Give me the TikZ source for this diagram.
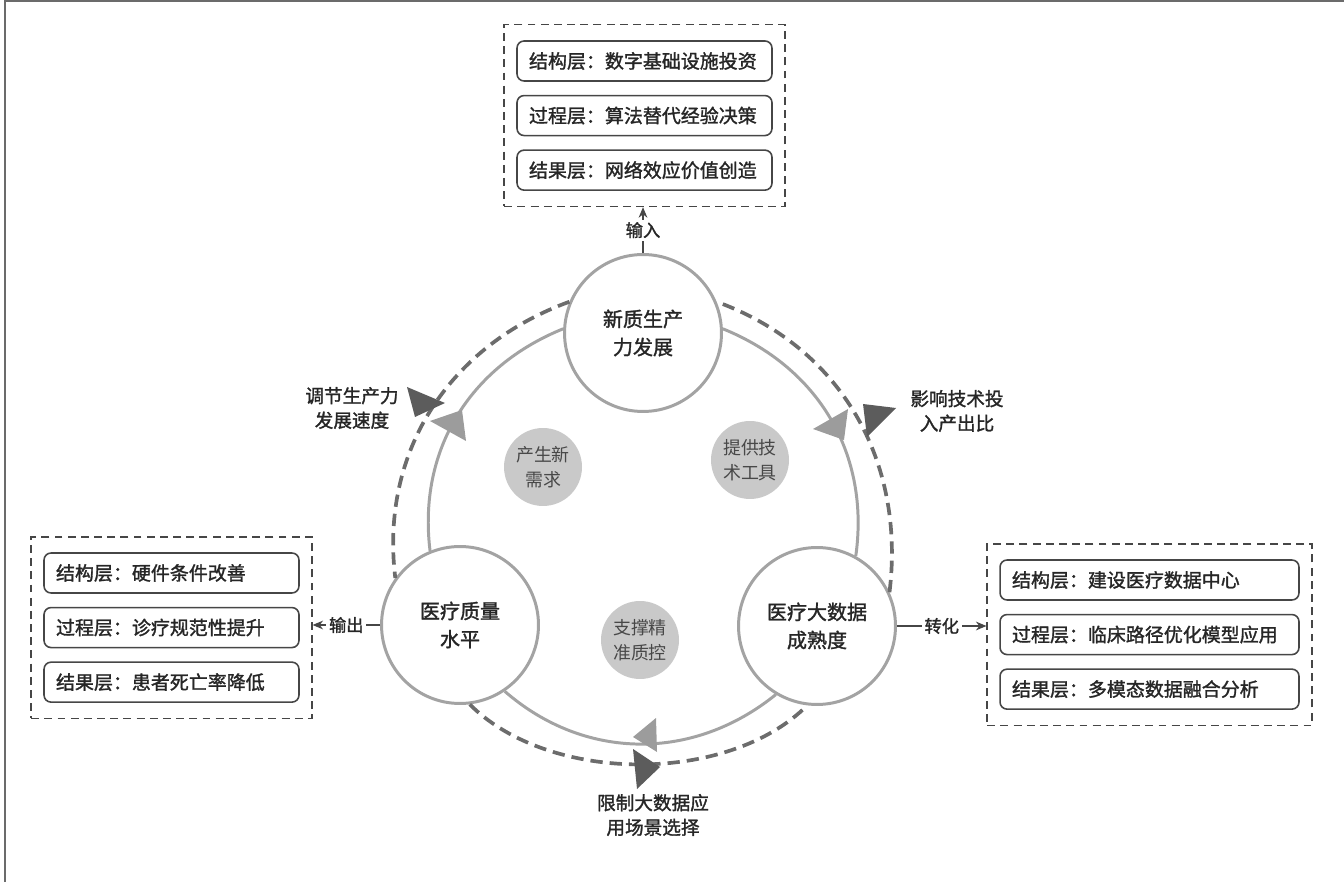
\documentclass[tikz,border=0pt]{standalone}
\usepackage{fontspec}
\setmainfont{Noto Sans CJK SC}
\newfontfamily\heavycjk{Noto Sans CJK SC}[FakeBold=1.5]
\usepackage{tikz}
\usetikzlibrary{arrows.meta, positioning, fit}
\definecolor{ringgray}{RGB}{163,163,163}
\definecolor{dashgray}{RGB}{108,108,108}
\definecolor{tipdark}{RGB}{92,92,92}
\definecolor{tiplight}{RGB}{156,156,156}
\definecolor{effectfill}{RGB}{201,201,201}
\definecolor{boxgray}{RGB}{70,70,70}
\definecolor{textgray}{RGB}{38,38,38}
\definecolor{softtext}{RGB}{72,72,72}
\tikzset{
  stage/.style={circle, draw=ringgray, line width=1.7pt, fill=white,
    minimum size=3.14cm, inner sep=0pt, align=center, text=textgray,
    font=\heavycjk\fontsize{11.4}{16}\selectfont},
  effect/.style={circle, fill=effectfill, minimum size=1.56cm, inner sep=0pt,
    align=center, text=softtext, font=\fontsize{10.2}{14}\selectfont},
  layerbox/.style={rectangle, rounded corners=4pt, draw=boxgray, line width=0.9pt,
    minimum height=0.8cm, inner xsep=0.24cm, inner ysep=0pt, text width=4.62cm,
    align=left, text=textgray, font=\heavycjk\fontsize{10.8}{13}\selectfont},
  widebox/.style={layerbox, text width=5.5cm},
  groupframe/.style={draw=boxgray, dash pattern=on 4.5pt off 3pt, line width=0.9pt,
    inner xsep=0.24cm, inner ysep=0.31cm},
  flowring/.style={draw=ringgray, line width=1.7pt},
  feedring/.style={draw=dashgray, line width=2.1pt, dash pattern=on 7pt off 4pt},
  outarrow/.style={-{Stealth[length=6pt, width=5pt]}, line width=0.7pt, color=boxgray},
  arrowtag/.style={fill=white, inner sep=1.5pt, text=textgray,
    font=\heavycjk\fontsize{9.8}{12}\selectfont},
  note/.style={align=center, text=textgray, font=\heavycjk\fontsize{10.6}{14}\selectfont},
  pageedge/.style={draw=boxgray!80, line width=0.9pt},
}
\begin{document}
\begin{tikzpicture}[x=0.02cm, y=0.02cm]
  \useasboundingbox (0,0) rectangle (1344,882);
  \draw[pageedge] (5,0) -- (5,881) -- (1344,881);

  \node[stage] (np) at (643,549) {新质生产\\力发展};
  \node[stage] (mq) at (460,257) {医疗质量\\水平};
  \node[stage] (bd) at (817,256) {医疗大数据\\成熟度};

  \node[effect] (need) at (543,415) {产生新\\需求};
  \node[effect] (tool) at (750,422) {提供技\\术工具};
  \node[effect] (ctrl) at (640,242) {支撑精\\准质控};

  \draw[flowring] (np.3) to[out=-22, in=82] (bd.61);
  \draw[flowring] (bd.239) to[out=219, in=-41] (mq.-56);
  \draw[flowring] (mq.112) to[out=97, in=-158] (np.177);
  \draw[feedring] (np.157) to[out=200, in=97] (mq.144);
  \draw[feedring] (mq.-83) to[out=-45, in=-135, looseness=0.85] (bd.-97);
  \draw[feedring] (bd.25) to[out=83, in=-20] (np.23);

  \fill[tipdark] (407,495) -- (445,479) -- (415,465) -- cycle;
  \fill[tipdark] (863,478) -- (896,474) -- (867,445) -- cycle;
  \fill[tipdark] (633,133) -- (660,115) -- (637,93) -- cycle;
  \fill[tiplight] (430,461) -- (462,472) -- (466,441) -- cycle;
  \fill[tiplight] (813,453) -- (848,473) -- (844,442) -- cycle;
  \fill[tiplight] (633,145) -- (656,164) -- (657,130) -- cycle;

  \node[note] (slow) at (352,474) {调节生产力\\发展速度};
  \node[note] (ratio) at (957,471) {影响技术投\\入产出比};
  \node[note] (limit) at (653,67) {限制大数据应\\用场景选择};

  \node[layerbox] (t1) at (644.5,821) {结构层：数字基础设施投资};
  \node[layerbox, below=0.26cm of t1] (t2) {过程层：算法替代经验决策};
  \node[layerbox, below=0.26cm of t2] (t3) {结果层：网络效应价值创造};
  \node[groupframe, fit=(t1)(t3)] (tg) {};

  \node[layerbox] (l1) at (171.5,309) {结构层：硬件条件改善};
  \node[layerbox, below=0.26cm of l1] (l2) {过程层：诊疗规范性提升};
  \node[layerbox, below=0.26cm of l2] (l3) {结果层：患者死亡率降低};
  \node[groupframe, fit=(l1)(l3)] (lg) {};

  \node[widebox] (r1) at (1149.5,302) {结构层：建设医疗数据中心};
  \node[widebox, below=0.26cm of r1] (r2) {过程层：临床路径优化模型应用};
  \node[widebox, below=0.26cm of r2] (r3) {结果层：多模态数据融合分析};
  \node[groupframe, fit=(r1)(r3)] (rg) {};

  \draw[outarrow] (np.north) -- (np.north |- tg.south) node[arrowtag, midway] {输入};
  \draw[outarrow] (mq.west) -- (mq.west -| lg.east) node[arrowtag, midway] {输出};
  \draw[outarrow] (bd.east) -- (bd.east -| rg.west) node[arrowtag, midway] {转化};
\end{tikzpicture}
\end{document}
